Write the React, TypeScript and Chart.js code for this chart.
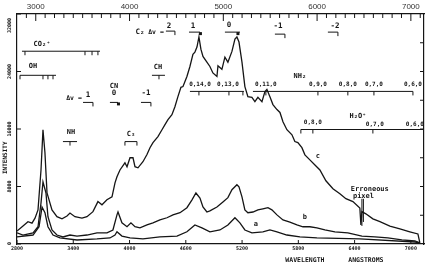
import React, { useEffect, useRef } from "react";
import { Chart, registerables } from "chart.js";

Chart.register(...registerables);

// ---------- data (wavelength in Å, intensity) ----------
const curveA: [number, number][] = [
  [2800, 980], [2971, 1250], [3035, 2400], [3067, 5150], [3098, 4350], [3130, 2400],
  [3184, 1250], [3258, 840], [3440, 560], [3653, 700], [3791, 840], [3845, 1250],
  [3866, 1700], [3919, 1100], [4005, 840], [4143, 700], [4324, 980], [4506, 1100],
  [4612, 1700], [4697, 2650], [4772, 2250], [4857, 1700], [4964, 1950], [5049, 2650],
  [5124, 3650], [5177, 2950], [5230, 1950], [5305, 1550], [5422, 1700], [5497, 1950],
  [5572, 1700], [5678, 1250], [5817, 980], [5998, 840], [6456, 700], [7043, 280], [7096, 150],
];

const curveB: [number, number][] = [
  [2800, 1550], [2864, 1250], [2971, 1550], [3024, 2400], [3056, 5700], [3077, 8650],
  [3109, 7100], [3130, 3800], [3173, 1950], [3226, 1250], [3290, 980], [3365, 1250],
  [3440, 1100], [3546, 1250], [3653, 1550], [3759, 1550], [3823, 1950], [3866, 4050],
  [3877, 4450], [3919, 2950], [3973, 2400], [4015, 2950], [4058, 2400], [4111, 2250],
  [4186, 2650], [4250, 2950], [4324, 3350], [4399, 3650], [4463, 4050], [4538, 4350],
  [4612, 5050], [4666, 6150], [4708, 7100], [4751, 6400], [4783, 5150], [4825, 4450],
  [4857, 4600], [4932, 5150], [4996, 5850], [5049, 6450], [5092, 7550], [5145, 8250],
  [5167, 7950], [5199, 6550], [5230, 4750], [5262, 4350], [5316, 4450], [5369, 4750],
  [5422, 4900], [5476, 5050], [5518, 4750], [5572, 4050], [5636, 3350], [5710, 3050],
  [5785, 2650], [5849, 2400], [5923, 2400], [5998, 2250], [6083, 1950], [6190, 1700],
  [6328, 1550], [6478, 1100], [6616, 980], [6755, 840], [6904, 560], [7043, 420], [7096, 150],
];

const curveC: [number, number][] = [
  [2800, 1800], [2864, 2500], [2917, 3100], [2960, 2900], [2992, 3600], [3024, 4750],
  [3056, 10300], [3077, 15900], [3098, 12700], [3120, 7100], [3173, 4750], [3226, 3800],
  [3280, 3500], [3333, 3900], [3365, 4300], [3418, 3800], [3493, 3600], [3546, 3800],
  [3610, 4500], [3663, 5900], [3706, 5450], [3759, 6150], [3813, 6550], [3845, 8500],
  [3866, 9350], [3898, 10300], [3951, 11300], [3973, 10750], [4005, 12000], [4037, 12000],
  [4058, 10750], [4090, 10600], [4143, 11450], [4186, 12450], [4218, 13400], [4250, 14100],
  [4303, 14950], [4346, 15900], [4378, 16600], [4410, 17300], [4452, 18000], [4484, 19100],
  [4516, 20500], [4548, 21800], [4570, 21900], [4612, 23300], [4644, 24700], [4676, 26400],
  [4697, 26700], [4719, 27400], [4740, 28800], [4761, 27100], [4783, 26100], [4825, 25300],
  [4857, 24700], [4889, 23800], [4932, 23300], [4943, 24800], [4985, 24300], [5017, 26000],
  [5049, 25300], [5092, 26800], [5124, 28500], [5145, 28800], [5167, 28100], [5199, 25300],
  [5230, 21900], [5262, 20500], [5305, 20400], [5337, 19800], [5369, 20400], [5412, 19800],
  [5444, 21200], [5465, 21500], [5497, 20500], [5529, 19400], [5572, 18700], [5604, 18300],
  [5636, 17000], [5678, 15900], [5732, 15200], [5763, 14250], [5795, 14100], [5838, 13400],
  [5870, 12400], [5923, 11700], [5977, 11000], [6030, 10300], [6094, 8800], [6169, 7700],
  [6243, 7000], [6307, 6300], [6382, 5900], [6456, 5000], [6467, 2650], [6478, 4500],
  [6520, 4200], [6595, 3500], [6670, 3100], [6776, 2500], [6883, 2100], [6989, 1700],
  [7075, 1400], [7096, 150],
];

const bottomTickValues = [2800, 3400, 4000, 4600, 5200, 5800, 6400, 7000];
const topTickValues = [3000, 4000, 5000, 6000, 7000];
const leftTickValues = [0, 8000, 16000, 24000, 32000];
const rightTickValues = [4000, 8000, 12000, 16000, 20000, 24000, 28000];

// text labels: [text, wavelength, intensity, size, align]
const labelTexts: [string, number, number, number, string][] = [
  ["CO₂⁺", 3067, 27800, 7, "center"],
  ["OH", 2971, 24730, 7, "center"],
  ["Δv =", 3408, 20260, 6.5, "center"],
  ["1", 3557, 20680, 7.5, "center"],
  ["CN", 3834, 21930, 7, "center"],
  ["0", 3834, 20960, 7.5, "center"],
  ["-1", 4175, 20960, 7.5, "center"],
  ["CH", 4303, 24590, 7, "center"],
  ["C₂", 4111, 29480, 7.5, "center"],
  ["Δv =", 4282, 29480, 6.5, "center"],
  ["2", 4420, 30300, 7.5, "center"],
  ["1", 4676, 30300, 7.5, "center"],
  ["0", 5060, 30450, 7.5, "center"],
  ["-1", 5582, 30300, 7.5, "center"],
  ["-2", 6190, 30300, 7.5, "center"],
  ["0,14,0", 4751, 22210, 6, "center"],
  ["0,13,0", 5049, 22210, 6, "center"],
  ["0,11,0", 5454, 22210, 6, "center"],
  ["NH₂", 5817, 23330, 7, "center"],
  ["0,9,0", 6009, 22210, 6, "center"],
  ["0,8,0", 6328, 22210, 6, "center"],
  ["0,7,0", 6606, 22210, 6, "center"],
  ["0,6,0", 7022, 22210, 6, "center"],
  ["H₂O⁺", 6435, 17740, 7, "center"],
  ["0,8,0", 5955, 16900, 6, "center"],
  ["0,7,0", 6616, 16620, 6, "center"],
  ["0,6,0", 7043, 16620, 6, "center"],
  ["NH", 3376, 15510, 7, "center"],
  ["C₃", 4015, 15230, 7, "center"],
  ["c", 6009, 12150, 7, "center"],
  ["b", 5870, 3770, 7, "center"],
  ["a", 5348, 2790, 7, "center"],
  ["Erroneous", 6360, 7680, 7, "left"],
  ["pixel", 6382, 6700, 7, "left"],
];

// band brackets: [from λ, to λ, intensity, down-tick λ list, filled-box λ (0 = none)]
const brackets: [number, number, number, number[], number][] = [
  [2853, 3685, 26820, [2885, 3525, 3600, 3663], 0],
  [2832, 3216, 23470, [2832, 3077, 3130, 3184], 0],
  [3504, 3610, 19700, [3610], 0],
  [3791, 3877, 19700, [], 3866],
  [4122, 4228, 19700, [4228], 0],
  [4239, 4378, 23470, [4314], 0],
  [4388, 4484, 29620, [4484], 0],
  [4634, 4751, 29480, [], 4740],
  [5017, 5177, 29480, [], 5140],
  [5550, 5657, 29200, [5657], 0],
  [6115, 6222, 29480, [6222], 0],
  [4644, 5220, 21230, [4740, 5060, 5209], 0],
  [5316, 7022, 21230, [5454, 6009, 6328, 6606, 7022], 0],
  [5827, 7139, 15930, [5827, 5955, 6595], 0],
  [3290, 3440, 14250, [3365], 0],
  [3951, 4079, 14250, [3951, 4079], 0],
];

const errorPixel = { w: 6478, from: 6290, to: 2510 };

const INK = "#151515";
const MONO = "'DejaVu Sans Mono', 'Liberation Mono', monospace";

const annotPlugin = {
  id: "annot",
  afterDraw(chart: any) {
    const ctx = chart.ctx as CanvasRenderingContext2D;
    const xs = chart.scales.x;
    const ys = chart.scales.y;
    const px = (w: number) => xs.getPixelForValue(w);
    const py = (i: number) => ys.getPixelForValue(i);
    const { left, right, top, bottom } = chart.chartArea;
    const line = (x1: number, y1: number, x2: number, y2: number) => {
      ctx.beginPath();
      ctx.moveTo(x1, y1);
      ctx.lineTo(x2, y2);
      ctx.stroke();
    };
    ctx.save();
    ctx.strokeStyle = INK;
    ctx.fillStyle = INK;
    ctx.lineWidth = 1;

    // inward ticks
    bottomTickValues.forEach((v) => line(px(v), bottom, px(v), bottom - 4));
    for (let v = 2900; v <= 7100; v += 100) {
      const major = v % 1000 === 0;
      line(px(v), top, px(v), top + (major ? 7 : 4));
    }
    leftTickValues.forEach((v) => line(left, py(v), left + 4, py(v)));
    rightTickValues.forEach((v) => line(right, py(v), right - 4, py(v)));

    // y labels, rotated
    ctx.font = `bold 5px ${MONO}`;
    ctx.textAlign = "center";
    ctx.textBaseline = "middle";
    leftTickValues.forEach((v) => {
      const s = String(v);
      const half = ctx.measureText(s).width / 2;
      let cy = py(v);
      cy = Math.max(cy, top + half + 4);
      cy = Math.min(cy, bottom - half + 1);
      ctx.save();
      ctx.translate(left - 7, cy);
      ctx.rotate(-Math.PI / 2);
      ctx.fillText(s, 0, 0);
      ctx.restore();
    });

    // axis titles
    ctx.font = `bold 6px ${MONO}`;
    ctx.save();
    ctx.translate(5, py(12000));
    ctx.rotate(-Math.PI / 2);
    ctx.fillText("INTENSITY", 0, 0);
    ctx.restore();
    ctx.font = `bold 6.5px ${MONO}`;
    ctx.fillText("WAVELENGTH", px(5870), bottom + 16);
    ctx.fillText("ANGSTROMS", px(6520), bottom + 16);

    // brackets
    brackets.forEach(([w1, w2, i, downs, box]) => {
      const y = py(i);
      line(px(w1), y, px(w2), y);
      downs.forEach((w) => line(px(w), y, px(w), y + 4));
      if (box) ctx.fillRect(px(box), y, 3, 3);
    });

    // erroneous pixel arrow
    line(px(errorPixel.w), py(errorPixel.from), px(errorPixel.w), py(errorPixel.to));
    line(px(errorPixel.w) + 1.5, py(errorPixel.from), px(errorPixel.w) + 1.5, py(errorPixel.to) - 4);

    // labels
    labelTexts.forEach(([t, w, i, size, align]) => {
      ctx.font = `bold ${size}px ${MONO}`;
      ctx.textAlign = align as CanvasTextAlign;
      ctx.textBaseline = "middle";
      ctx.fillText(t, px(w), py(i));
    });

    ctx.restore();
  },
};

export default function App() {
  const ref = useRef<HTMLCanvasElement>(null);
  useEffect(() => {
    document.body.style.margin = "0";
    const canvas = ref.current!;
    const toPts = (arr: [number, number][]) => arr.map(([x, y]) => ({ x, y }));
    const fixW = (w: number) => (s: any) => { s.width = w; };
    const fixH = (h: number) => (s: any) => { s.height = h; };
    const setTicks = (vals: number[]) => (s: any) => { s.ticks = vals.map((v) => ({ value: v })); };
    const plain = (v: any) => String(v);
    const lineStyle = { borderColor: INK, borderWidth: 1.3, pointRadius: 0, tension: 0, fill: false };
    const border = { display: true, color: INK, width: 1.2 };
    const chart = new Chart(canvas, {
      type: "line",
      data: {
        datasets: [
          { label: "c", data: toPts(curveC), ...lineStyle },
          { label: "b", data: toPts(curveB), ...lineStyle },
          { label: "a", data: toPts(curveA), ...lineStyle },
        ] as any,
      },
      options: {
        responsive: false,
        animation: false,
        devicePixelRatio: 1,
        layout: { padding: 0 },
        plugins: { legend: { display: false }, tooltip: { enabled: false } },
        scales: {
          x: {
            type: "linear",
            position: "bottom",
            min: 2800,
            max: 7140,
            afterBuildTicks: setTicks(bottomTickValues),
            afterFit: fixH(25),
            grid: { display: false, drawTicks: false },
            border,
            ticks: {
              color: INK,
              font: { family: MONO, size: 5, weight: "bold" },
              padding: 2,
              minRotation: 0,
              maxRotation: 0,
              autoSkip: false,
              callback: plain,
            },
          },
          xTop: {
            type: "linear",
            position: "top",
            min: 2800,
            max: 7140,
            afterBuildTicks: setTicks(topTickValues),
            afterFit: fixH(14),
            grid: { display: false, drawTicks: false },
            border,
            ticks: {
              color: "#333",
              font: { family: "'Liberation Sans', Arial, sans-serif", size: 8 },
              padding: 2,
              minRotation: 0,
              maxRotation: 0,
              autoSkip: false,
              callback: plain,
            },
          },
          y: {
            type: "linear",
            position: "left",
            min: 0,
            max: 32000,
            afterBuildTicks: setTicks(leftTickValues),
            afterFit: fixW(17),
            grid: { display: false, drawTicks: false },
            border,
            ticks: { display: false },
          },
          yRight: {
            type: "linear",
            position: "right",
            min: 0,
            max: 32000,
            afterBuildTicks: setTicks(rightTickValues),
            afterFit: fixW(4),
            grid: { display: false, drawTicks: false },
            border,
            ticks: { display: false },
          },
        },
      } as any,
      plugins: [annotPlugin],
    });
    return () => chart.destroy();
  }, []);
  return (
    <div style={{ position: "relative", width: 428, height: 269, background: "#fff" }}>
      <canvas ref={ref} width={428} height={269} style={{ display: "block" }} />
    </div>
  );
}
